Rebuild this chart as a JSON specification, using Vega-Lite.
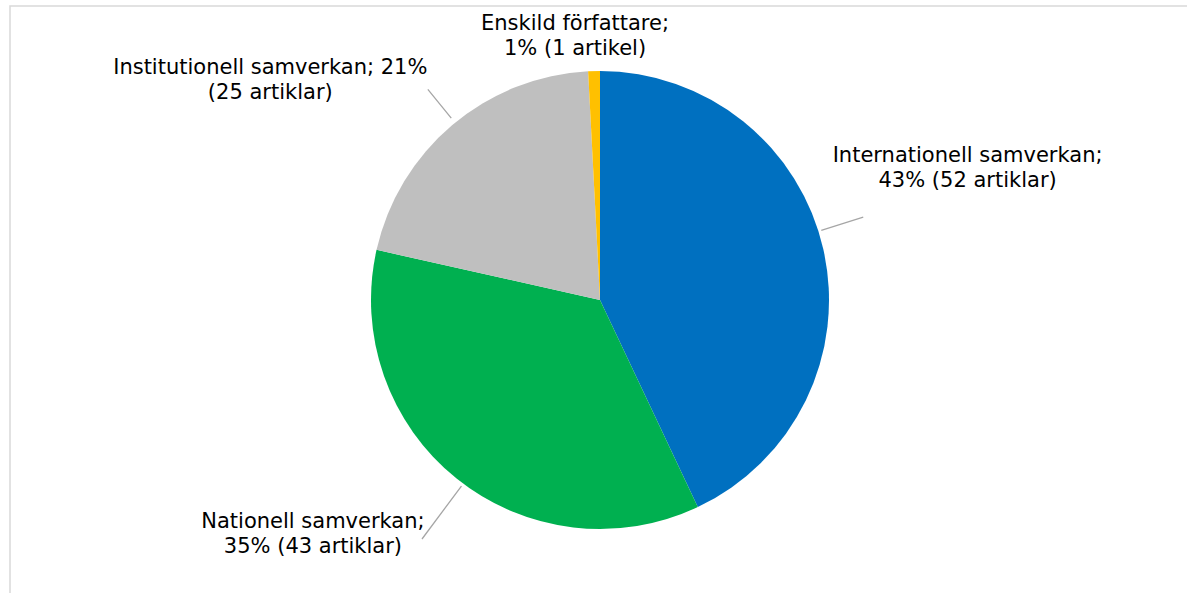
{
  "$schema": "https://vega.github.io/schema/vega-lite/v6.json",
  "width": 1180,
  "height": 588,
  "autosize": {"type": "none"},
  "padding": {"left": 10, "top": 6, "right": 0, "bottom": 0},
  "background": "white",
  "view": {"stroke": "#d9d9d9", "strokeWidth": 1.5},
  "data": {
    "values": [
      {"kategori": "Internationell samverkan", "artiklar": 52, "ordning": 1, "etikett": "Internationell samverkan;\n43% (52 artiklar)"},
      {"kategori": "Nationell samverkan", "artiklar": 43, "ordning": 2, "etikett": "Nationell samverkan;\n35% (43 artiklar)"},
      {"kategori": "Institutionell samverkan", "artiklar": 25, "ordning": 3, "etikett": "Institutionell samverkan; 21%\n(25 artiklar)"},
      {"kategori": "Enskild författare", "artiklar": 1, "ordning": 4, "etikett": "Enskild författare;\n1% (1 artikel)"}
    ]
  },
  "encoding": {
    "theta": {"field": "artiklar", "type": "quantitative", "stack": true},
    "order": {"field": "ordning", "type": "quantitative"}
  },
  "layer": [
    {
      "mark": {"type": "arc", "outerRadius": 229},
      "encoding": {
        "color": {
          "field": "kategori",
          "type": "nominal",
          "scale": {
            "domain": ["Internationell samverkan", "Nationell samverkan", "Institutionell samverkan", "Enskild författare"],
            "range": ["#0070C0", "#00B050", "#BFBFBF", "#FFC000"]
          },
          "legend": null
        }
      }
    },
    {
      "mark": {"type": "arc", "innerRadius": 232, "outerRadius": 276, "thetaOffset": -0.0846, "padAngle": 3, "fillOpacity": 0, "strokeWidth": 1.3},
      "encoding": {"stroke": {"condition": {"test": "datum.kategori === 'Internationell samverkan'", "value": "#a6a6a6"}, "value": null}}
    },
    {
      "mark": {"type": "arc", "innerRadius": 232, "outerRadius": 298, "thetaOffset": -0.0349, "padAngle": 3, "fillOpacity": 0, "strokeWidth": 1.3},
      "encoding": {"stroke": {"condition": {"test": "datum.kategori === 'Nationell samverkan'", "value": "#a6a6a6"}, "value": null}}
    },
    {
      "mark": {"type": "arc", "innerRadius": 235, "outerRadius": 272, "thetaOffset": 0.0157, "padAngle": 3, "fillOpacity": 0, "strokeWidth": 1.3},
      "encoding": {"stroke": {"condition": {"test": "datum.kategori === 'Institutionell samverkan'", "value": "#a6a6a6"}, "value": null}}
    },
    {
      "mark": {"type": "text", "radius": 391, "thetaOffset": -0.127, "dy": -11, "align": "center", "baseline": "middle", "lineBreak": "\n", "lineHeight": 25, "font": "DejaVu Sans", "fontSize": 21, "color": "#000000"},
      "encoding": {"text": {"condition": {"test": "datum.kategori === 'Internationell samverkan'", "field": "etikett"}, "value": ""}}
    },
    {
      "mark": {"type": "text", "radius": 370, "thetaOffset": 0.213, "dy": -11, "align": "center", "baseline": "middle", "lineBreak": "\n", "lineHeight": 25, "font": "DejaVu Sans", "fontSize": 21, "color": "#000000"},
      "encoding": {"text": {"condition": {"test": "datum.kategori === 'Nationell samverkan'", "field": "etikett"}, "value": ""}}
    },
    {
      "mark": {"type": "text", "radius": 397, "thetaOffset": -0.279, "dy": -11, "align": "center", "baseline": "middle", "lineBreak": "\n", "lineHeight": 25, "font": "DejaVu Sans", "fontSize": 21, "color": "#000000"},
      "encoding": {"text": {"condition": {"test": "datum.kategori === 'Institutionell samverkan'", "field": "etikett"}, "value": ""}}
    },
    {
      "mark": {"type": "text", "radius": 266, "thetaOffset": -0.068, "dy": -11, "align": "center", "baseline": "middle", "lineBreak": "\n", "lineHeight": 25, "font": "DejaVu Sans", "fontSize": 21, "color": "#000000"},
      "encoding": {"text": {"condition": {"test": "datum.kategori === 'Enskild författare'", "field": "etikett"}, "value": ""}}
    }
  ]
}
